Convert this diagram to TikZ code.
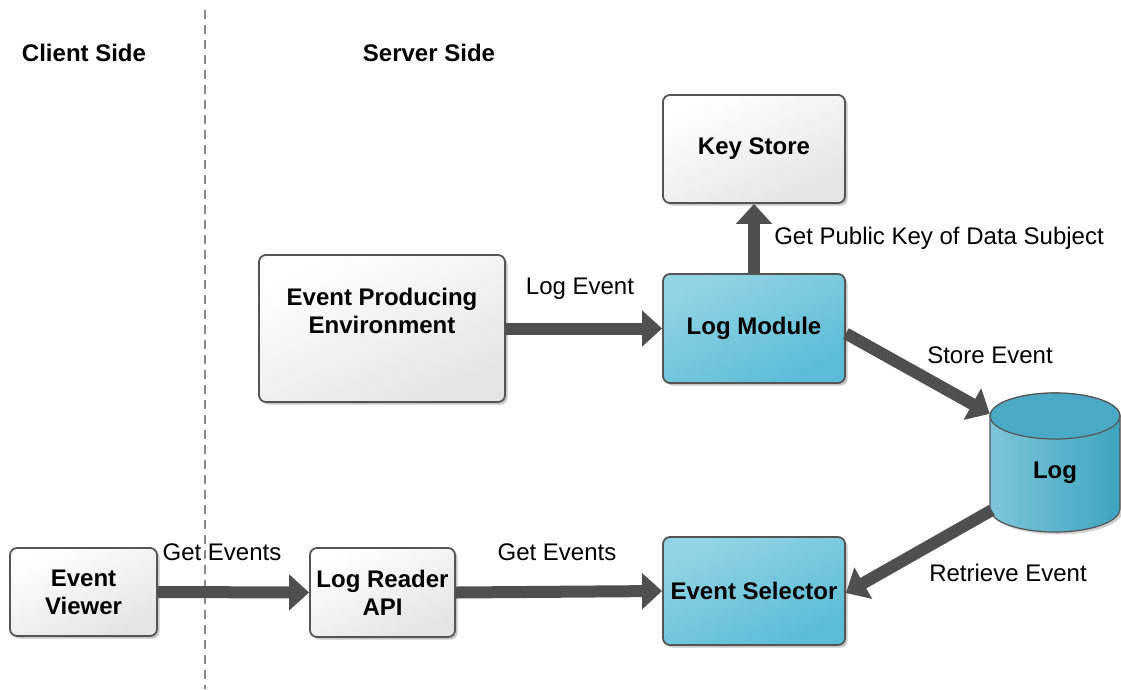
\documentclass[tikz,border=0pt]{standalone}
\usepackage{fontspec}
\setmainfont{Liberation Sans}
\usetikzlibrary{arrows.meta,shadows,calc}
\definecolor{edgegray}{HTML}{555555}
\definecolor{arrowgray}{HTML}{4F4F4F}
\definecolor{boxtop}{HTML}{FFFFFF}
\definecolor{boxbot}{HTML}{E4E4E4}
\definecolor{bluetop}{HTML}{92D4E4}
\definecolor{bluebot}{HTML}{5ABCD6}
\definecolor{cylleft}{HTML}{7DC6D9}
\definecolor{cylright}{HTML}{3EA4C0}
\definecolor{cyltop}{HTML}{4AAAC5}
\definecolor{dashgray}{HTML}{8A8A8A}

\begin{document}
\begin{tikzpicture}[x=1pt,y=-1pt,
  txt/.style={font=\fontsize{24}{28}\selectfont, inner sep=0pt},
  boldtxt/.style={font=\bfseries\fontsize{24}{28}\selectfont, inner sep=0pt, align=center},
  box/.style={draw=edgegray, line width=1.8pt, rounded corners=7pt, align=center,
    inner sep=2pt, font=\bfseries\fontsize{24}{28}\selectfont,
    drop shadow={shadow xshift=2.5pt, shadow yshift=-2.5pt, opacity=0.22, fill=black}},
  greybox/.style={box, top color=boxtop, bottom color=boxbot, shading angle=25},
  bluebox/.style={box, top color=bluetop, bottom color=bluebot, shading angle=25},
  flow/.style={draw=arrowgray, line width=12pt,
    -{Triangle[length=20pt, width=35pt, fill=arrowgray]}},
  divider/.style={draw=dashgray, line width=1.6pt, dash pattern=on 9pt off 6pt}
]
\useasboundingbox (0,0) rectangle (1121,689);

% client / server separator
\coordinate (divtop) at (205,10);
\coordinate (divbot) at (205,689);
\draw[divider] (divtop) -- (divbot);

\node[boldtxt] (client) at (84,53) {Client Side};
\node[boldtxt] (server) at (429,53) {Server Side};

% components
\node[greybox, minimum width=182, minimum height=108] (ks) at (754,149) {Key Store};
\node[bluebox, minimum width=182, minimum height=109] (lm) at (754,328.5) {Log Module};
\node[bluebox, minimum width=182, minimum height=108] (es) at (754,591) {Event Selector};
\node[greybox, minimum width=246, minimum height=147] (epe) at (382,328.5) {};
\node[boldtxt] (epetext) at (382,311) {Event Producing\\Environment};
\node[greybox, minimum width=147, minimum height=88] (ev) at (83.5,592) {Event\\Viewer};
\node[greybox, minimum width=145, minimum height=89] (lra) at (382.5,592.5) {Log Reader\\API};

% log storage cylinder
\fill[black, opacity=0.18, xshift=2.5pt, yshift=-2.5pt]
  (990,416) -- (990,509) arc[start angle=180, end angle=360, x radius=65pt, y radius=23pt]
  -- (1120,416) arc[start angle=0, end angle=180, x radius=65pt, y radius=23pt] -- cycle;
\shade[left color=cylleft, right color=cylright, draw=edgegray, line width=1.2pt]
  (990,416) -- (990,509) arc[start angle=180, end angle=360, x radius=65pt, y radius=23pt]
  -- (1120,416) arc[start angle=0, end angle=180, x radius=65pt, y radius=23pt] -- cycle;
\filldraw[fill=cyltop, draw=edgegray, line width=1.2pt]
  (1055,416) ellipse[x radius=65pt, y radius=23pt];
\node[minimum width=130, minimum height=139, inner sep=0pt] (logcyl) at (1055,462.5) {};
\node[boldtxt] (logtext) at (1055,473) {Log};

% flows
\draw[flow] (epe.east) -- (lm.west);
\draw[flow] (lm.north) -- (ks.south);
\draw[flow] ($(lm.east)+(0,5)$) -- ($(logcyl.north west)+(0,21)$);
\draw[flow] ($(logcyl.south west)+(2,-22)$) -- ($(es.east)+(0,2)$);
\draw[flow] (ev.east) -- (lra.west);
\draw[flow] (lra.east) -- (es.west);

% flow labels
\node[txt] (lblLog) at (580,289) {Log Event};
\node[txt] (lblKey) at (939,238) {Get Public Key of Data Subject};
\node[txt] (lblStore) at (990,355) {Store Event};
\node[txt] (lblRetr) at (1008,573) {Retrieve Event};
\node[txt] (lblGet1) at (222,552) {Get Events};
\node[txt] (lblGet2) at (557,552) {Get Events};
\end{tikzpicture}
\end{document}
